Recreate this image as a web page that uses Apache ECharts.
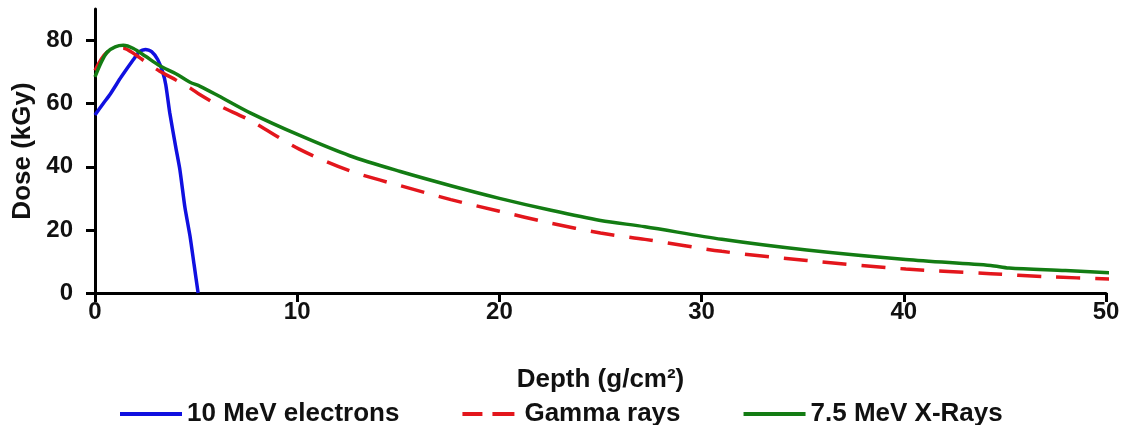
<!DOCTYPE html>
<html>
<head>
<meta charset="utf-8">
<script src="https://cdn.jsdelivr.net/npm/echarts@6/dist/echarts.min.js"></script>
<style>
  html, body { margin: 0; padding: 0; background: #fff; }
  #chart { width: 1134px; height: 425px; }
</style>
</head>
<body>
<div id="chart"></div>
<script>
// depth (g/cm2) and dose (kGy)
var electronDepth = [0, 0.4, 0.75, 1.3, 1.9, 2.2, 2.5, 2.8, 3.1, 3.35, 3.5, 3.7, 4.0, 4.2, 4.45, 4.7, 4.9, 5.1]
var electronDose = [56.4, 60, 63, 68.5, 74, 76.5, 77.2, 76.5, 74, 70, 66, 57, 46, 39, 27, 18, 9, 0]

var gammaDepth = [0, 0.3, 0.6, 1.0, 1.4, 2.0, 2.6, 3.2, 4.0, 4.7, 5.2, 6.1, 7.7, 10.1, 12.6, 15.1, 17.6, 20, 22.5, 25, 27.2, 31, 35.2, 40.1, 44.3, 47, 50.6]
var gammaDose = [70.5, 74, 76.3, 77.5, 77.6, 75.5, 72.8, 70.3, 67.5, 65, 62.8, 59.5, 54.6, 45.6, 38.7, 34, 29.6, 25.9, 22.2, 19, 17, 13.2, 10.3, 7.6, 6.1, 5.2, 4.3]

var xrayDepth = [0, 0.3, 0.6, 1.0, 1.4, 1.9, 2.5, 3.2, 4.0, 4.7, 5.2, 6.1, 7.7, 10.1, 12.6, 15.1, 17.6, 20, 22.5, 25, 27.2, 31, 35.2, 40.1, 44.3, 45.2, 48, 50.8]
var xrayDose = [68.5, 73, 76.3, 78, 78.5, 77.5, 75, 72, 69.5, 66.8, 65.5, 62.5, 57, 50, 43.5, 38.5, 34, 30, 26.3, 23, 21, 17, 13.6, 10.6, 8.7, 7.9, 7.1, 6.2]

var seriesNames = ['10 MeV electrons', 'Gamma rays', '7.5 MeV X-Rays']
var yTicks = [0, 20, 40, 60, 80]
var xTicks = [0, 10, 20, 30, 40, 50]

function zip(xs, ys) {
  return xs.map(function (x, i) { return [x, ys[i]] })
}

var font = "'Liberation Sans', Arial, sans-serif"
var myChart = echarts.init(document.getElementById('chart'))

var option = {
  animation: false,
  textStyle: { fontFamily: font },
  grid: { left: 95, right: 28, top: 9, bottom: 132 },
  legend: {
    left: 115,
    top: 396,
    itemWidth: 62,
    itemHeight: 4,
    itemGap: 63,
    textStyle: { fontSize: 26, fontWeight: 'bold', color: '#111', fontFamily: font },
    data: [
      { name: seriesNames[0], icon: 'rect' },
      // two dashes for the dashed series
      { name: seriesNames[1], icon: 'path://M0,0H20V4H0Z M30,0H52V4H30Z' },
      { name: seriesNames[2], icon: 'rect' }
    ]
  },
  xAxis: {
    type: 'value',
    min: 0,
    max: 50,
    interval: 10,
    name: 'Depth (g/cm²)',
    nameLocation: 'middle',
    nameGap: 74,
    nameTextStyle: { fontSize: 26, fontWeight: 'bold', color: '#111' },
    splitLine: { show: false },
    axisLine: { lineStyle: { color: '#000', width: 3 } },
    axisTick: { length: 9, lineStyle: { color: '#000', width: 3 } },
    axisLabel: {
      customValues: xTicks,
      margin: 7,
      fontSize: 24,
      fontWeight: 'bold',
      color: '#111'
    }
  },
  yAxis: {
    type: 'value',
    min: 0,
    max: 90,
    interval: 20,
    name: 'Dose (kGy)',
    nameLocation: 'middle',
    nameGap: 50,
    nameTextStyle: { fontSize: 26, fontWeight: 'bold', color: '#111' },
    splitLine: { show: false },
    axisLine: { lineStyle: { color: '#000', width: 3 } },
    axisTick: { customValues: yTicks, length: 9, lineStyle: { color: '#000', width: 3 } },
    axisLabel: {
      customValues: yTicks,
      margin: 22,
      fontSize: 24,
      fontWeight: 'bold',
      color: '#111'
    }
  },
  series: [{
    name: seriesNames[0],
    type: 'line',
    data: zip(electronDepth, electronDose),
    showSymbol: false,
    symbol: 'none',
    smooth: 0.2,
    clip: false,
    lineStyle: { color: '#1010e0', width: 3.5 },
    itemStyle: { color: '#1010e0' }
  }, {
    name: seriesNames[1],
    type: 'line',
    data: zip(gammaDepth, gammaDose),
    showSymbol: false,
    symbol: 'none',
    smooth: 0.3,
    clip: false,
    lineStyle: { color: '#e3161c', width: 3.5, type: [24, 15] },
    itemStyle: { color: '#e3161c' }
  }, {
    name: seriesNames[2],
    type: 'line',
    data: zip(xrayDepth, xrayDose),
    showSymbol: false,
    symbol: 'none',
    smooth: 0.3,
    clip: false,
    lineStyle: { color: '#137c13', width: 3.5 },
    itemStyle: { color: '#137c13' }
  }]
}

myChart.setOption(option)
</script>
</body>
</html>
